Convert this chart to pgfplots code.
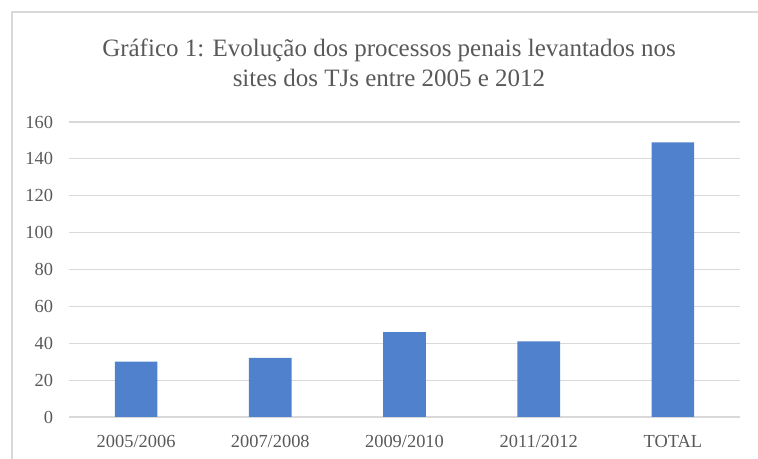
\documentclass[border=0pt]{standalone}
\usepackage{pgfplots}
\pgfplotsset{compat=1.18}
\usepackage{fontspec}
\setmainfont{Liberation Serif}
\definecolor{barblue}{HTML}{4F81CD}
\definecolor{txtgray}{HTML}{595959}
\definecolor{gridgray}{HTML}{D9D9D9}
\begin{document}
\begin{tikzpicture}
\begin{axis}[
  scale only axis, width=503.25pt, height=221.25pt,
  xmin=-0.5, xmax=4.5, ymin=0, ymax=160,
  ytick={0,20,...,160},
  xtick={0,1,2,3,4},
  xticklabels={2005/2006,2007/2008,2009/2010,2011/2012,TOTAL},
  axis line style={draw=none},
  major tick length=0pt,
  ymajorgrids, grid style={gridgray, line width=0.9pt},
  ticklabel style={text=txtgray, font=\fontsize{13.8}{16}\selectfont},
  yticklabel style={anchor=east, inner sep=0pt, xshift=-11.8pt},
  xticklabel style={anchor=base, inner sep=0pt, yshift=-23.25pt},
  /pgf/number format/assume math mode=true,
]
\addplot[ybar, bar width=32pt, fill=barblue, draw=none] coordinates {(0,30) (1,32) (2,46) (3,41) (4,149)};
\end{axis}
\begin{scope}[x=0.75pt,y=0.75pt,shift={(-51.75pt,-31.5pt)}]
\useasboundingbox (0,0) rectangle (758,459);
\draw[gridgray, line width=0.9pt] (12,0) -- (12,447) -- (758,447);
\node[anchor=base, text=txtgray, font=\fontsize{18.75}{22}\selectfont] at (389,402) {Gráfico 1: Evolução dos processos penais levantados nos};
\node[anchor=base, text=txtgray, font=\fontsize{18.75}{22}\selectfont] at (389,372) {sites dos TJs entre 2005 e 2012};
\end{scope}
\end{tikzpicture}
\end{document}
